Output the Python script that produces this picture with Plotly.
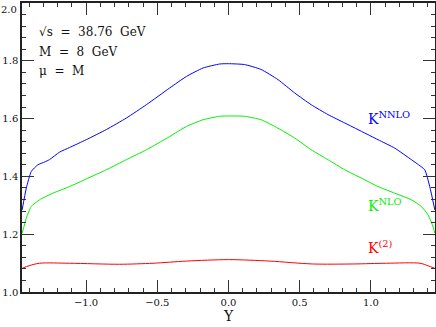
import plotly.graph_objects as go

# ---- data ----
Y_nnlo = [-1.449, -1.42, -1.385, -1.339, -1.29, -1.257, -1.186, -1.116, -0.999, -0.858,
          -0.717, -0.577, -0.413, -0.295, -0.179, -0.061, 0.0, 0.112, 0.229, 0.347,
          0.464, 0.581, 0.698, 0.816, 0.933, 1.050, 1.167, 1.284, 1.335, 1.378, 1.413, 1.449]
K_nnlo = [1.284, 1.359, 1.417, 1.440, 1.450, 1.458, 1.484, 1.500, 1.527, 1.562,
          1.602, 1.648, 1.706, 1.746, 1.775, 1.789, 1.790, 1.787, 1.770, 1.735,
          1.689, 1.648, 1.614, 1.585, 1.556, 1.527, 1.498, 1.458, 1.440, 1.423, 1.365, 1.284]

Y_nlo = [-1.449, -1.42, -1.385, -1.327, -1.233, -1.116, -0.999, -0.858, -0.717, -0.577,
         -0.413, -0.295, -0.179, -0.061, 0.0, 0.112, 0.229, 0.347, 0.464, 0.581,
         0.698, 0.816, 0.933, 1.050, 1.167, 1.284, 1.354, 1.401, 1.437, 1.449]
K_nlo = [1.203, 1.255, 1.296, 1.319, 1.342, 1.365, 1.391, 1.423, 1.458, 1.492,
         1.538, 1.573, 1.596, 1.608, 1.609, 1.608, 1.596, 1.567, 1.533, 1.492,
         1.458, 1.423, 1.394, 1.365, 1.342, 1.319, 1.296, 1.267, 1.225, 1.203]

Y_k2 = [-1.449, -1.40, -1.327, -1.116, -0.764, -0.53, -0.295, 0.0, 0.29, 0.59,
        0.876, 1.11, 1.345, 1.40, 1.449]
K_k2 = [1.082, 1.091, 1.0995, 1.0995, 1.096, 1.0995, 1.107, 1.112, 1.107, 1.097,
        1.097, 1.0995, 1.0995, 1.091, 1.082]

x_tickvals = [-1.0, -0.5, 0.0, 0.5, 1.0]
x_ticktext = ["\u22121.0", "\u22120.5", "0.0", "0.5", "1.0"]
y_tickvals = [1.0, 1.2, 1.4, 1.6, 1.8, 2.0]
y_ticktext = ["1.0", "1.2", "1.4", "1.6", "1.8", "2.0"]

FONT = "DejaVu Serif"

fig = go.Figure()
fig.add_trace(go.Scatter(x=Y_nnlo, y=K_nnlo, mode="lines",
                         line=dict(color="#0000ff", width=1, shape="spline", smoothing=0.5),
                         showlegend=False))
fig.add_trace(go.Scatter(x=Y_nlo, y=K_nlo, mode="lines",
                         line=dict(color="#00f000", width=1, shape="spline", smoothing=0.5),
                         showlegend=False))
fig.add_trace(go.Scatter(x=Y_k2, y=K_k2, mode="lines",
                         line=dict(color="#ff0000", width=1, shape="spline", smoothing=0.8),
                         showlegend=False))

tick_font = dict(family=FONT, size=10, color="#111")
axis_common = dict(showgrid=False, zeroline=False, showline=True, linecolor="#222",
                   linewidth=1.5, mirror="allticks", ticks="inside", tickcolor="#333",
                   tickwidth=1, ticklen=12, automargin=False,
                   ticklabeloverflow="allow", tickfont=tick_font)

fig.update_xaxes(range=[-1.45, 1.45], tickvals=x_tickvals, ticktext=x_ticktext,
                 minor=dict(dtick=0.1, tick0=0, ticks="inside", ticklen=4,
                            tickcolor="#333", tickwidth=1),
                 title=dict(text="Y", font=dict(family=FONT, size=14, color="#111"),
                            standoff=2),
                 **axis_common)
# the top label (2.0) sits at the page edge; it is drawn separately below so it stays visible
fig.update_yaxes(range=[1.0, 2.0], tickvals=y_tickvals,
                 ticktext=y_ticktext[:-1] + [""],
                 minor=dict(dtick=0.04, tick0=1.0, ticks="inside", ticklen=4,
                            tickcolor="#333", tickwidth=1),
                 **axis_common)
fig.add_annotation(x=0, xref="paper", xanchor="right", xshift=-3,
                   y=y_tickvals[-1], yref="y", yanchor="top", yshift=1,
                   text=y_ticktext[-1], showarrow=False, font=tick_font)

ann_font = dict(family=FONT, size=12, color="#111")
for txt, yv in [("\u221As  =  38.76  GeV", 1.898), ("M  =  8  GeV", 1.830),
                ("\u03bc  =  M", 1.766)]:
    fig.add_annotation(x=-1.345, y=yv, text=txt, showarrow=False, xanchor="left",
                       yanchor="middle", font=ann_font)

for txt, yv, col in [("K<sup>NNLO</sup>", 1.603, "#0000ff"),
                     ("K<sup>NLO</sup>", 1.300, "#00f000"),
                     ("K<sup>(2)</sup>", 1.154, "#ff0000")]:
    fig.add_annotation(x=0.965, y=yv, text=txt, showarrow=False, xanchor="left",
                       yanchor="middle", font=dict(family=FONT, size=14, color=col))

fig.update_layout(width=436, height=327,
                  margin=dict(l=22, r=1, t=3, b=35, autoexpand=False),
                  plot_bgcolor="white", paper_bgcolor="white")

fig.write_html("out.html", config={"displayModeBar": False},
               post_script="document.body.style.margin='0';document.body.style.overflow='hidden';")
